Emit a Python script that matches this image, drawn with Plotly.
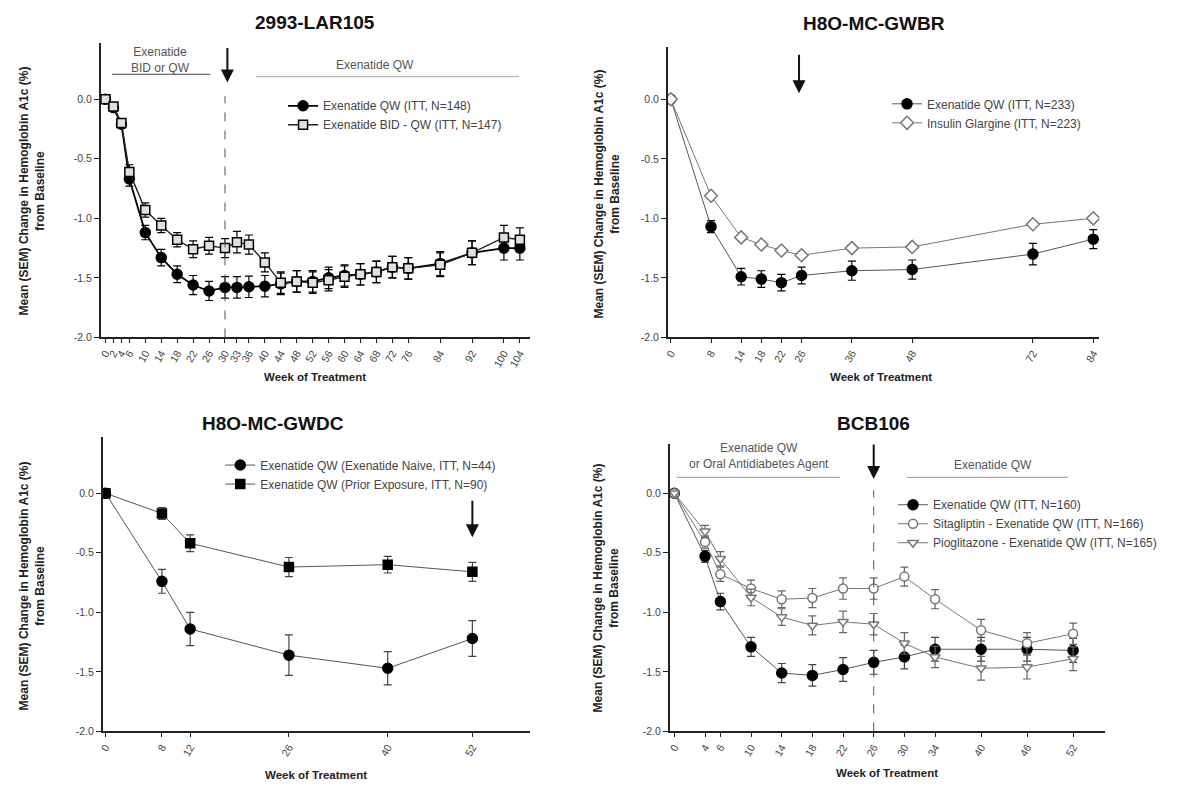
import plotly.graph_objects as go

W, H = 1189, 789
FONT = "Arial, Liberation Sans, sans-serif"

# ---------------- data ----------------
# Panel 1: 2993-LAR105
tl_weeks = [0, 2, 4, 6, 10, 14, 18, 22, 26, 30, 33, 36, 40, 44, 48, 52, 56, 60, 64, 68, 72, 76, 84, 92, 100, 104]
tl_qw = [0.0, -0.07, -0.21, -0.67, -1.12, -1.33, -1.47, -1.56, -1.61, -1.58, -1.58, -1.575, -1.57, -1.55,
         -1.53, -1.53, -1.50, -1.48, -1.47, -1.45, -1.41, -1.42, -1.38, -1.29, -1.25, -1.25]
tl_qw_sem = [0.0, 0.02, 0.03, 0.06, 0.06, 0.07, 0.07, 0.08, 0.08, 0.09, 0.09, 0.09, 0.09, 0.09,
             0.09, 0.09, 0.09, 0.09, 0.09, 0.09, 0.09, 0.09, 0.10, 0.10, 0.10, 0.10]
tl_bid = [0.0, -0.06, -0.20, -0.61, -0.93, -1.06, -1.18, -1.26, -1.23, -1.25, -1.20, -1.22, -1.37, -1.54,
          -1.53, -1.54, -1.52, -1.49, -1.47, -1.45, -1.41, -1.42, -1.39, -1.29, -1.16, -1.18]
tl_bid_sem = [0.0, 0.02, 0.03, 0.06, 0.06, 0.06, 0.06, 0.07, 0.07, 0.08, 0.09, 0.08, 0.08, 0.09,
              0.09, 0.09, 0.09, 0.09, 0.09, 0.09, 0.09, 0.09, 0.10, 0.10, 0.10, 0.10]

# Panel 2: H8O-MC-GWBR
tr_weeks = [0, 8, 14, 18, 22, 26, 36, 48, 72, 84]
tr_qw = [0.0, -1.07, -1.49, -1.51, -1.54, -1.48, -1.44, -1.43, -1.30, -1.175]
tr_qw_sem = [0.0, 0.05, 0.07, 0.07, 0.07, 0.07, 0.08, 0.08, 0.09, 0.08]
tr_glar = [0.0, -0.81, -1.16, -1.22, -1.27, -1.31, -1.25, -1.24, -1.05, -1.00]
tr_glar_sem = [0.0, 0.02, 0.02, 0.02, 0.02, 0.02, 0.02, 0.02, 0.02, 0.02]

# Panel 3: H8O-MC-GWDC
bl_weeks = [0, 8, 12, 26, 40, 52]
bl_naive = [0.0, -0.74, -1.14, -1.36, -1.47, -1.22]
bl_naive_sem = [0.0, 0.10, 0.14, 0.17, 0.14, 0.15]
bl_prior = [0.0, -0.17, -0.42, -0.62, -0.60, -0.66]
bl_prior_sem = [0.0, 0.05, 0.07, 0.08, 0.07, 0.08]

# Panel 4: BCB106
br_weeks = [0, 4, 6, 10, 14, 18, 22, 26, 30, 34, 40, 46, 52]
br_qw = [0.0, -0.53, -0.91, -1.29, -1.51, -1.53, -1.48, -1.42, -1.375, -1.31, -1.31, -1.31, -1.32]
br_qw_sem = [0.0, 0.05, 0.07, 0.08, 0.08, 0.09, 0.10, 0.10, 0.10, 0.10, 0.10, 0.10, 0.10]
br_sita = [0.0, -0.41, -0.68, -0.80, -0.89, -0.88, -0.80, -0.80, -0.70, -0.89, -1.15, -1.26, -1.18]
br_sita_sem = [0.0, 0.05, 0.06, 0.07, 0.07, 0.08, 0.09, 0.09, 0.08, 0.08, 0.09, 0.09, 0.09]
br_pio = [0.0, -0.32, -0.55, -0.875, -1.04, -1.11, -1.08, -1.10, -1.26, -1.375, -1.47, -1.46, -1.39]
br_pio_sem = [0.0, 0.05, 0.06, 0.07, 0.07, 0.08, 0.09, 0.09, 0.09, 0.09, 0.10, 0.10, 0.10]

y_ticks = [-2.0, -1.5, -1.0, -0.5, 0.0]
y_ticktext = ["-2.0", "-1.5", "-1.0", "-0.5", "0.0"]

titles = ["2993-LAR105", "H8O-MC-GWBR", "H8O-MC-GWDC", "BCB106"]
ytitle = "Mean (SEM) Change in Hemoglobin A1c (%)<br>from Baseline"
xtitle = "Week of Treatment"

# ---------------- layout geometry (pixels) ----------------
def px(x):
    return x / W

def py(y):
    return 1 - y / H

panels = {
    # name: (x_left_px, x_right_px, y_top_px, y_bottom_px, xrange, yrange)
    "1": (97, 528, 43, 340, [-1.2, 106.6], [-2.0, 0.475]),
    "2": (666, 1099, 47, 340, [-0.6, 85.2], [-2.0, 0.442]),
    "3": (99, 528, 440, 737, [-0.4, 60.2], [-2.0, 0.475]),
    "4": (668, 1105, 447, 737, [-0.6, 56.2], [-2.0, 0.417]),
}
xticks = {"1": tl_weeks, "2": tr_weeks, "3": bl_weeks, "4": br_weeks}

fig = go.Figure()

def add_series(panel, x, y, sem, name, legend, symbol, mcolor, mline, lcolor, lwidth, size, ecolor="black"):
    fig.add_trace(go.Scatter(
        x=x, y=y, name=name, mode="lines+markers",
        xaxis="x" + ("" if panel == "1" else panel),
        yaxis="y" + ("" if panel == "1" else panel),
        legend=legend,
        line=dict(color=lcolor, width=lwidth),
        marker=dict(symbol=symbol, size=size, color=mcolor, line=dict(color=mline, width=1.5)),
        error_y=dict(type="data", array=sem, color=ecolor, thickness=1.2, width=4),
    ))

add_series("1", tl_weeks, tl_qw, tl_qw_sem, "Exenatide QW (ITT, N=148)", "legend",
           "circle", "black", "black", "black", 1.8, 10)
add_series("1", tl_weeks, tl_bid, tl_bid_sem, "Exenatide BID - QW (ITT, N=147)", "legend",
           "square", "#e0e0e0", "black", "#222", 1.4, 9)

add_series("2", tr_weeks, tr_qw, tr_qw_sem, "Exenatide QW (ITT, N=233)", "legend2",
           "circle", "black", "black", "#555", 1, 10)
add_series("2", tr_weeks, tr_glar, tr_glar_sem, "Insulin Glargine (ITT, N=223)", "legend2",
           "diamond", "white", "#777", "#777", 1, 10, "#777")

add_series("3", bl_weeks, bl_naive, bl_naive_sem, "Exenatide QW (Exenatide Naive, ITT, N=44)", "legend3",
           "circle", "black", "black", "#555", 1, 10, "#444")
add_series("3", bl_weeks, bl_prior, bl_prior_sem, "Exenatide QW (Prior Exposure, ITT, N=90)", "legend3",
           "square", "black", "black", "#555", 1, 9, "#444")

add_series("4", br_weeks, br_qw, br_qw_sem, "Exenatide QW (ITT, N=160)", "legend4",
           "circle", "black", "black", "#555", 1, 10, "#444")
add_series("4", br_weeks, br_sita, br_sita_sem, "Sitagliptin - Exenatide QW (ITT, N=166)", "legend4",
           "circle", "white", "#777", "#777", 1, 9, "#666")
add_series("4", br_weeks, br_pio, br_pio_sem, "Pioglitazone - Exenatide QW (ITT, N=165)", "legend4",
           "triangle-down", "white", "#777", "#777", 1, 9, "#666")

layout = dict(
    width=W, height=H, margin=dict(l=0, r=0, t=0, b=0),
    paper_bgcolor="white", plot_bgcolor="white",
    font=dict(family=FONT, size=10, color="#333"),
    showlegend=True,
)

annotations = []
shapes = []

for key, (xl, xr, yt, yb, xr_, yr_) in panels.items():
    xa = "xaxis" + ("" if key == "1" else key)
    ya = "yaxis" + ("" if key == "1" else key)
    layout[xa] = dict(
        domain=[px(xl), px(xr)], range=xr_, anchor="y" + ("" if key == "1" else key),
        showgrid=False, zeroline=False, showline=True, linecolor="#222", linewidth=1.5,
        ticks="outside", ticklen=4, tickcolor="#222", tickwidth=1,
        tickvals=xticks[key], ticktext=[str(v) for v in xticks[key]], tickangle=-60,
        tickfont=dict(size=10.5, color="#444", family=FONT),
    )
    layout[ya] = dict(
        domain=[py(yb), py(yt)], range=yr_, anchor="x" + ("" if key == "1" else key),
        showgrid=False, zeroline=False, showline=True, linecolor="#222", linewidth=1.5,
        ticks="outside", ticklen=5, tickcolor="#222", tickwidth=1,
        tickvals=y_ticks, ticktext=y_ticktext,
        tickfont=dict(size=10.5, color="#444", family=FONT),
    )

# Titles
title_pos = {"1": (312, 23), "2": (873, 24), "3": (270, 427), "4": (872, 427)}
for i, key in enumerate(["1", "2", "3", "4"]):
    x, y = title_pos[key]
    annotations.append(dict(text="<b>%s</b>" % titles[i], x=px(x), y=py(y), xref="paper", yref="paper",
                            showarrow=False, font=dict(size=19, color="#111", family=FONT),
                            xanchor="center", yanchor="middle"))

# Y axis titles
ytpos = {"1": (28, 192), "2": (605, 195), "3": (28, 590), "4": (605, 592)}
for key, (x, y) in ytpos.items():
    annotations.append(dict(text="<b>%s</b>" % ytitle, x=px(x), y=py(y), xref="paper", yref="paper",
                            showarrow=False, textangle=-90, font=dict(size=12, color="#222", family=FONT),
                            xanchor="center", yanchor="middle"))

# X axis titles
xtpos = {"1": (312, 380), "2": (880, 380), "3": (313, 781), "4": (886, 779)}
for key, (x, y) in xtpos.items():
    annotations.append(dict(text="<b>%s</b>" % xtitle, x=px(x), y=py(y), xref="paper", yref="paper",
                            showarrow=False, font=dict(size=11.5, color="#222", family=FONT),
                            xanchor="center", yanchor="middle"))

# ---- Panel 1 decorations ----
annotations.append(dict(text="Exenatide<br>BID or QW", x=13.8, y=0.33, xref="x", yref="y", showarrow=False,
                        font=dict(size=12, color="#555", family=FONT)))
shapes.append(dict(type="line", xref="x", yref="y", x0=1.6, x1=26.3, y0=0.21, y1=0.21,
                   line=dict(color="#444", width=1.2)))
annotations.append(dict(text="Exenatide QW", x=67.6, y=0.29, xref="x", yref="y", showarrow=False,
                        font=dict(size=12, color="#555", family=FONT)))
shapes.append(dict(type="line", xref="x", yref="y", x0=37.8, x1=103.8, y0=0.19, y1=0.19,
                   line=dict(color="#bbb", width=1.5)))
shapes.append(dict(type="line", xref="x", yref="y", x0=30, x1=30, y0=-2.0, y1=0.025,
                   line=dict(color="#555", width=1, dash="dash")))
annotations.append(dict(text="", x=30.6, y=0.14, xref="x", yref="y", showarrow=True, ax=0, ay=-36,
                        arrowhead=2, arrowsize=1.3, arrowwidth=2, arrowcolor="#111"))

# ---- Panel 2 decorations ----
annotations.append(dict(text="", x=25.5, y=0.05, xref="x2", yref="y2", showarrow=True, ax=0, ay=-40,
                        arrowhead=2, arrowsize=1.3, arrowwidth=2, arrowcolor="#111"))

# ---- Panel 3 decorations ----
annotations.append(dict(text="", x=52, y=-0.37, xref="x3", yref="y3", showarrow=True, ax=0, ay=-38,
                        arrowhead=2, arrowsize=1.3, arrowwidth=2, arrowcolor="#111"))

# ---- Panel 4 decorations ----
annotations.append(dict(text="Exenatide QW<br>or Oral Antidiabetes Agent", x=11.0, y=0.31, xref="x4", yref="y4",
                        showarrow=False, font=dict(size=12, color="#555", family=FONT)))
shapes.append(dict(type="line", xref="x4", yref="y4", x0=0.3, x1=21.6, y0=0.133, y1=0.133,
                   line=dict(color="#aaa", width=1.2)))
annotations.append(dict(text="Exenatide QW", x=41.5, y=0.24, xref="x4", yref="y4", showarrow=False,
                        font=dict(size=12, color="#555", family=FONT)))
shapes.append(dict(type="line", xref="x4", yref="y4", x0=30.3, x1=51.3, y0=0.133, y1=0.133,
                   line=dict(color="#aaa", width=1.2)))
shapes.append(dict(type="line", xref="x4", yref="y4", x0=26, x1=26, y0=-2.0, y1=0.025,
                   line=dict(color="#555", width=1, dash="dash")))
annotations.append(dict(text="", x=26, y=0.12, xref="x4", yref="y4", showarrow=True, ax=0, ay=-36,
                        arrowhead=2, arrowsize=1.3, arrowwidth=2, arrowcolor="#111"))

layout["annotations"] = annotations
layout["shapes"] = shapes

legend_common = dict(bgcolor="rgba(0,0,0,0)", borderwidth=0, font=dict(size=12, color="#444", family=FONT),
                     xanchor="left", yanchor="top", tracegroupgap=0, itemwidth=30)
layout["legend"] = dict(legend_common, x=px(280), y=py(92))
layout["legend2"] = dict(legend_common, x=px(886), y=py(90))
layout["legend3"] = dict(legend_common, x=px(217), y=py(454))
layout["legend4"] = dict(legend_common, x=px(892), y=py(494))

fig.update_layout(**layout)
fig.write_html("out.html")
